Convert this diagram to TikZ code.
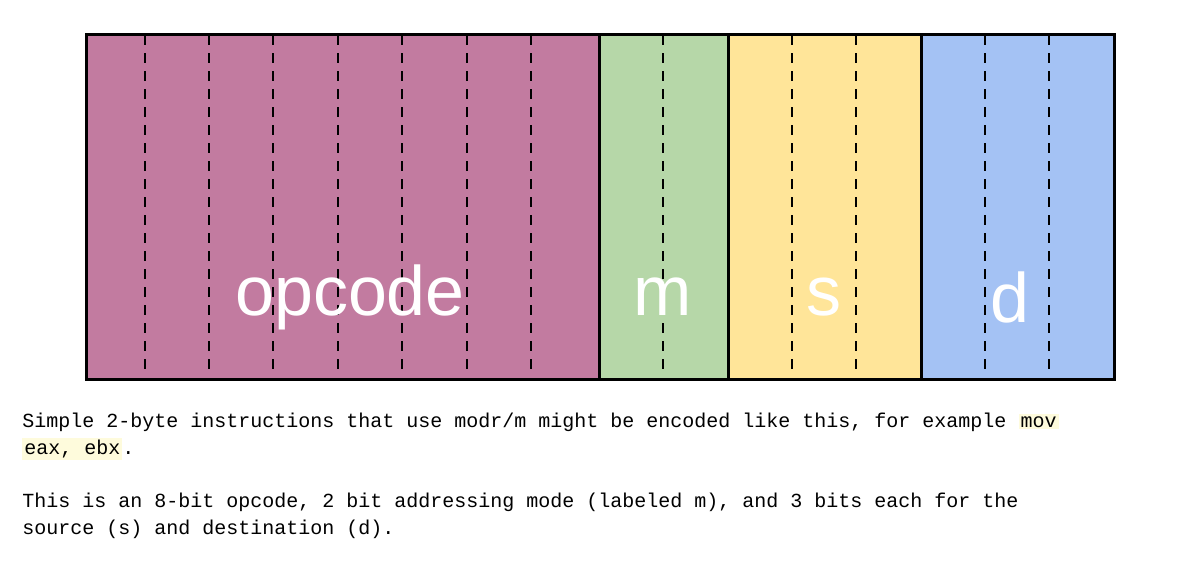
\documentclass[tikz,border=0pt]{standalone}
\usepackage{fontspec}
\setmainfont{Liberation Sans}
\setmonofont{Liberation Mono}
\definecolor{opc}{HTML}{C27BA0}
\definecolor{modc}{HTML}{B6D7A8}
\definecolor{srcc}{HTML}{FFE599}
\definecolor{dstc}{HTML}{A4C2F4}
\definecolor{hl}{HTML}{FEFBDC}
\newcommand{\hlt}[1]{{\setlength{\fboxsep}{1pt}\colorbox{hl}{#1}}}
\begin{document}
\begin{tikzpicture}[x=0.5pt,y=-0.5pt]
\tikzstyle{every node}+=[inner sep=0pt]
\tikzstyle{field}=[draw=black,line width=1.5pt,minimum height=172.5pt,anchor=north west]
\tikzstyle{lbl}=[text=white,font=\fontsize{35}{35}\selectfont]
\tikzstyle{bitline}=[black,line width=1pt,dash pattern=on 5pt off 4pt]
\tikzstyle{note}=[anchor=base west,font=\ttfamily\fontsize{10}{12}\selectfont]
\useasboundingbox (0,0) rectangle (1200,570);
\node [field,fill=opc,minimum width=256.5pt] (opcode) at (85,33) {};
\node [field,fill=modc,minimum width=64.5pt] (mod) at (598,33) {};
\node [field,fill=srcc,minimum width=96.5pt] (src) at (727,33) {};
\node [field,fill=dstc,minimum width=96.5pt] (dst) at (920,33) {};
\foreach \x in {145,209,273,338,402,467,531,663,792,856,985,1049}
  \draw [bitline] (\x,35) -- (\x,376);
\node [lbl] at (350,297) {opcode};
\node [lbl] at (663,297) {m};
\node [lbl] at (824,297) {s};
\node [lbl] at (1010,297) {d};
\node [note] (l1) at (22,427) {Simple 2-byte instructions that use modr/m might be encoded like this, for example \hlt{mov}};
\node [note] (l2) at (22,454) {\hlt{eax, ebx}.};
\node [note] (l3) at (22,507) {This is an 8-bit opcode, 2 bit addressing mode (labeled m), and 3 bits each for the};
\node [note] (l4) at (22,534) {source (s) and destination (d).};
\end{tikzpicture}
\end{document}
